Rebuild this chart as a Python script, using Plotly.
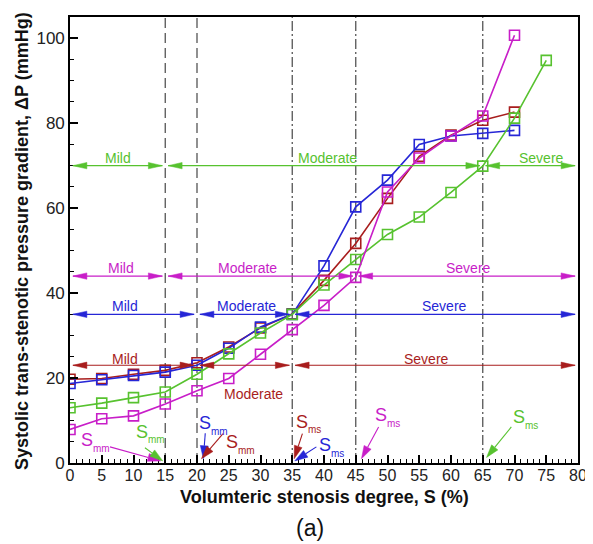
import plotly.graph_objects as go

# ---------------- data ----------------
S = [0, 5, 10, 15, 20, 25, 30, 35, 40, 45, 50, 55, 60, 65, 70]
S_green = [0, 5, 10, 15, 20, 25, 30, 35, 40, 45, 50, 55, 60, 65, 70, 75]

dp_red = [19.7, 19.9, 20.9, 21.8, 23.6, 27.3, 31.8, 35.1, 43.0, 51.7, 62.3, 72.2, 77.2, 80.7, 82.6]
dp_blue = [18.7, 19.6, 20.6, 21.4, 23.0, 27.0, 32.0, 35.0, 46.4, 60.3, 66.6, 75.0, 77.0, 77.6, 78.3]
dp_green = [13.0, 14.1, 15.4, 16.7, 20.9, 25.7, 30.6, 35.0, 41.9, 47.9, 53.8, 57.9, 63.7, 69.9, 81.2, 94.8]
dp_magenta = [7.9, 10.4, 11.1, 13.9, 17.0, 19.9, 25.6, 31.4, 37.1, 43.7, 63.8, 71.8, 77.0, 81.7, 100.7]

# severity classes (boundaries along S) for each model
class_names = ["Mild", "Moderate", "Severe"]
green_bounds = [0, 15, 65, 80]
magenta_bounds = [0, 15, 45, 80]
blue_bounds = [0, 20, 35, 80]
red_bounds = [0, 20, 35, 80]
green_level, magenta_level, blue_level, red_level = 70, 44, 35, 23
green_label_x = [7.6, 40.5, 74.2]
green_label_y = [71.9, 71.9, 71.9]
magenta_label_x = [8.1, 28.0, 62.8]
magenta_label_y = [45.9, 45.9, 45.9]
blue_label_x = [8.7, 27.8, 59.0]
blue_label_y = [36.9, 36.9, 36.9]
red_label_x = [8.7, 28.9, 56.2]
red_label_y = [24.4, 16.2, 24.4]

# threshold lines
dashed_x = [15, 20]
dashdot_x = [35, 45, 65]

# S_mm / S_ms markers: label position, arrow tail, arrow head
mark_sub = ["mm", "mm", "mm", "mm", "ms", "ms", "ms", "ms"]
mark_color = ["magenta", "green", "blue", "red", "red", "blue", "magenta", "green"]
mark_text_x = [1.6, 10.2, 20.2, 24.4, 35.4, 39.1, 47.9, 69.6]
mark_text_y = [5.3, 7.3, 9.4, 4.9, 9.7, 4.2, 11.2, 10.8]
mark_tail_x = [6.3, 11.8, 21.3, 24.1, 36.6, 38.8, 48.6, 69.5]
mark_tail_y = [3.8, 3.6, 7.0, 6.9, 6.9, 3.8, 8.5, 8.5]
mark_head_x = [14.3, 14.6, 21.0, 20.7, 35.3, 35.4, 45.9, 65.6]
mark_head_y = [0.5, 0.5, 1.0, 1.0, 1.0, 0.5, 1.0, 1.3]

COL = {"red": "#a81d1d", "blue": "#2626d6", "green": "#57c22f", "magenta": "#c81ec8"}
FONT = "Arial, 'Liberation Sans', sans-serif"

# ---------------- geometry helpers ----------------
W, H = 585, 536
ML, MR, MT, MB = 62, 15, 9, 81
XR = [0, 80]
YR = [0, 105]
PW = W - ML - MR
PH = H - MT - MB
PX = PW / (XR[1] - XR[0])
PY = PH / (YR[1] - YR[0])


def head_path(xt, yt, xh, yh, L, hw):
    dx = (xh - xt) * PX
    dy = (yh - yt) * PY
    n = (dx * dx + dy * dy) ** 0.5
    ux, uy = dx / n, dy / n
    bx, by = xh * PX - ux * L, yh * PY - uy * L
    nx, ny = -uy, ux
    p1 = ((bx + nx * hw) / PX, (by + ny * hw) / PY)
    p2 = ((bx - nx * hw) / PX, (by - ny * hw) / PY)
    base = (bx / PX, by / PY)
    path = f"M {xh},{yh} L {p1[0]},{p1[1]} L {p2[0]},{p2[1]} Z"
    return path, base


fig = go.Figure()

shapes = []
annotations = []

for xv in dashed_x:
    shapes.append(dict(type="line", xref="x", yref="paper", x0=xv, x1=xv, y0=0, y1=1,
                       line=dict(color="#555555", width=1.3, dash="10px,5px"), layer="below"))
for xv in dashdot_x:
    shapes.append(dict(type="line", xref="x", yref="paper", x0=xv, x1=xv, y0=0, y1=1,
                       line=dict(color="#555555", width=1.3, dash="10px,3px,2px,3px"), layer="below"))

# series
series = [
    ("red", S, dp_red),
    ("blue", S, dp_blue),
    ("green", S_green, dp_green),
    ("magenta", S, dp_magenta),
]
for name, xs, ys in series:
    fig.add_trace(go.Scatter(
        x=xs, y=ys, mode="lines+markers", name=name,
        line=dict(color=COL[name], width=1.6),
        marker=dict(symbol="square-open", size=10, color=COL[name], line=dict(width=1.6)),
        showlegend=False, hoverinfo="skip"))

# severity range arrows
ranges = [
    ("green", green_bounds, green_level, green_label_x, green_label_y),
    ("magenta", magenta_bounds, magenta_level, magenta_label_x, magenta_label_y),
    ("blue", blue_bounds, blue_level, blue_label_x, blue_label_y),
    ("red", red_bounds, red_level, red_label_x, red_label_y),
]
INSET = 0.45
for cname, bounds, lvl, lx, ly in ranges:
    c = COL[cname]
    for i in range(3):
        a = bounds[i] + INSET
        b = bounds[i + 1] - INSET
        shapes.append(dict(type="line", xref="x", yref="y", x0=a, x1=b, y0=lvl, y1=lvl,
                           line=dict(color=c, width=1.1)))
        for (xt, xh) in ((b, a), (a, b)):
            p, _ = head_path(xt, lvl, xh, lvl, 14, 3.2)
            shapes.append(dict(type="path", xref="x", yref="y", path=p,
                               fillcolor=c, line=dict(color=c, width=0.5)))
        annotations.append(dict(x=lx[i], y=ly[i], xref="x", yref="y", text=class_names[i],
                                showarrow=False, font=dict(family=FONT, size=14, color=c)))

# S_mm / S_ms arrows and labels
for i in range(len(mark_sub)):
    c = COL[mark_color[i]]
    p, base = head_path(mark_tail_x[i], mark_tail_y[i], mark_head_x[i], mark_head_y[i], 13, 4)
    shapes.append(dict(type="line", xref="x", yref="y", x0=mark_tail_x[i], y0=mark_tail_y[i],
                       x1=base[0], y1=base[1], line=dict(color=c, width=1.1)))
    shapes.append(dict(type="path", xref="x", yref="y", path=p,
                       fillcolor=c, line=dict(color=c, width=0.5)))
    annotations.append(dict(x=mark_text_x[i], y=mark_text_y[i], xref="x", yref="y",
                            xanchor="left", yanchor="middle", xshift=-1,
                            text="S", showarrow=False,
                            font=dict(family=FONT, size=18, color=c)))
    annotations.append(dict(x=mark_text_x[i], y=mark_text_y[i], xref="x", yref="y",
                            xanchor="left", yanchor="middle", xshift=11, yshift=-8,
                            text=mark_sub[i], showarrow=False,
                            font=dict(family=FONT, size=10, color=c)))

# titles (positions in screen pixels relative to plot area)
annotations.append(dict(x=(22 - 70) / PW, y=(463 - 241) / PH, xref="paper", yref="paper",
                        text="<b>Systolic trans-stenotic pressure gradient, ΔP (mmHg)</b>",
                        textangle=-90, showarrow=False, xanchor="center", yanchor="middle",
                        font=dict(family=FONT, size=18, color="#111111")))
annotations.append(dict(x=0.5, y=-(497 - 463) / PH, xref="paper", yref="paper",
                        text="<b>Volumteric stenosis degree, S (%)</b>",
                        showarrow=False, xanchor="center", yanchor="middle",
                        font=dict(family=FONT, size=18, color="#111111")))
annotations.append(dict(x=(310 - 70) / PW, y=-(528 - 463) / PH, xref="paper", yref="paper",
                        text="(a)", showarrow=False, xanchor="center", yanchor="middle",
                        font=dict(family=FONT, size=23, color="#111111")))

fig.update_layout(
    width=W, height=H,
    margin=dict(l=ML, r=MR, t=MT, b=MB, autoexpand=False),
    paper_bgcolor="white", plot_bgcolor="white",
    shapes=shapes, annotations=annotations,
    font=dict(family=FONT, color="#111111"),
    xaxis=dict(range=XR, dtick=5, tick0=0, ticks="inside", ticklen=8, tickwidth=1.5,
               tickcolor="black", showline=True, linecolor="black", linewidth=1.6,
               mirror=True, showgrid=False, zeroline=False, ticklabelstandoff=-3,
               automargin=False,
               tickfont=dict(family=FONT, size=16, color="#222222"),
               minor=dict(dtick=1, ticks="inside", ticklen=4, tickcolor="black", tickwidth=1)),
    yaxis=dict(range=YR, tickvals=[0, 20, 40, 60, 80, 100], ticks="inside", ticklen=8, tickwidth=1.5,
               tickcolor="black", showline=True, linecolor="black", linewidth=1.6,
               mirror=True, showgrid=False, zeroline=False, automargin=False,
               tickfont=dict(family=FONT, size=17, color="#222222"),
               minor=dict(dtick=5, ticks="inside", ticklen=4, tickcolor="black", tickwidth=1)),
)

fig.write_html("out.html")
